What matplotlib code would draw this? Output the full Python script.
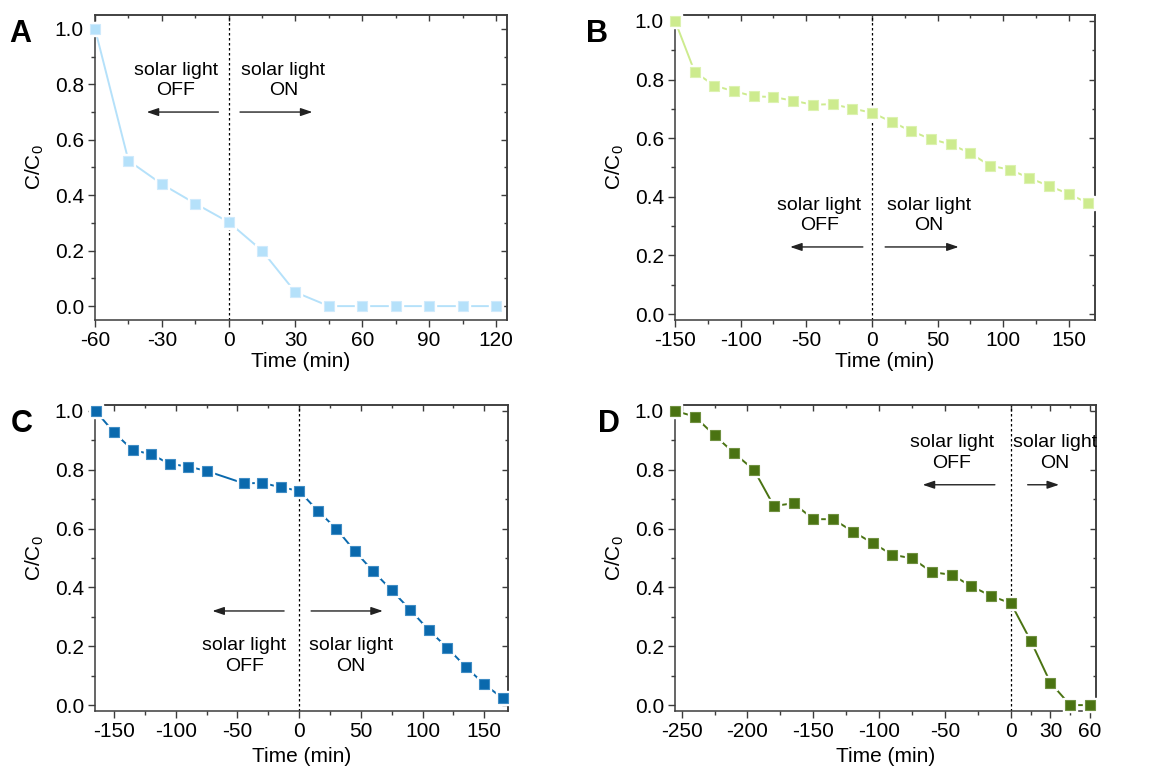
import matplotlib
matplotlib.use('Agg')
import matplotlib.pyplot as plt

plt.rcParams['font.family'] = ['Liberation Sans', 'DejaVu Sans']
plt.rcParams['mathtext.fontset'] = 'custom'
plt.rcParams['mathtext.rm'] = 'Liberation Sans'
plt.rcParams['mathtext.it'] = 'Liberation Sans:italic'
plt.rcParams['axes.unicode_minus'] = False

# ---- data ----
time_a = [-60, -45, -30, -15, 0, 15, 30, 45, 60, 75, 90, 105, 120]
conc_a = [1.0, 0.525, 0.44, 0.37, 0.303, 0.20, 0.05, 0.0, 0.0, 0.0, 0.0, 0.0, 0.0]

time_b = [-150, -135, -120, -105, -90, -75, -60, -45, -30, -15, 0,
          15, 30, 45, 60, 75, 90, 105, 120, 135, 150, 165]
conc_b = [1.0, 0.826, 0.779, 0.760, 0.743, 0.740, 0.728, 0.714, 0.716, 0.701, 0.687,
          0.656, 0.624, 0.597, 0.579, 0.549, 0.506, 0.493, 0.464, 0.437, 0.410, 0.378]

time_c = [-165, -150, -135, -120, -105, -90, -75, -45, -30, -15, 0,
          15, 30, 45, 60, 75, 90, 105, 120, 135, 150, 165]
conc_c = [1.0, 0.927, 0.867, 0.853, 0.820, 0.811, 0.796, 0.754, 0.755, 0.741, 0.728,
          0.661, 0.600, 0.524, 0.455, 0.390, 0.324, 0.255, 0.195, 0.130, 0.071, 0.023]

time_d = [-255, -240, -225, -210, -195, -180, -165, -150, -135, -120, -105,
          -90, -75, -60, -45, -30, -15, 0, 15, 30, 45, 60]
conc_d = [1.0, 0.981, 0.917, 0.856, 0.799, 0.677, 0.686, 0.632, 0.632, 0.590, 0.551,
          0.511, 0.499, 0.452, 0.443, 0.404, 0.371, 0.346, 0.219, 0.076, 0.0, 0.0]

xticks_a = [-60, -30, 0, 30, 60, 90, 120]
xticks_b = [-150, -100, -50, 0, 50, 100, 150]
xticks_c = [-150, -100, -50, 0, 50, 100, 150]
xticks_d = [-250, -200, -150, -100, -50, 0, 30, 60]
xminor_a = [-45, -15, 15, 45, 75, 105]
xminor_b = [-125, -75, -25, 25, 75, 125]
xminor_c = [-125, -75, -25, 25, 75, 125]
xminor_d = [-225, -175, -125, -75, -25, 15, 45]
yticks = [0.0, 0.2, 0.4, 0.6, 0.8, 1.0]
yminor = [0.1, 0.3, 0.5, 0.7, 0.9]

colors = ['#b5e1fa', '#cdeb8e', '#0a69ad', '#4a7312']
edge_colors = ['#cfeafc', '#dcf2b0', '#3f8cc4', '#6f9040']

spine_col = '#3c3c3c'

fig = plt.figure(figsize=(11.49, 7.74), dpi=100)


def make_panel(rect, t, c, color, ecol, xlim, ylim, xt, xm, letter, letter_pos,
               off_txt, off_arrow, on_txt, on_arrow, xlabelpad):
    ax = fig.add_axes(rect)
    ax.plot(t, c, '-', color=color, lw=1.4, zorder=2)
    # white squares give the "gap to symbol" look
    ax.plot(t, c, 's', ms=10.5, color='white', zorder=3, clip_on=False)
    ax.plot(t, c, 's', ms=7.4, color=color, mec=ecol, mew=0.8, zorder=4, clip_on=False)
    ax.axvline(0, color='black', lw=0.9, ls=(0, (2, 2)), zorder=1)

    ax.set_xlim(xlim)
    ax.set_ylim(ylim)
    ax.set_xticks(xt)
    ax.set_xticks(xm, minor=True)
    ax.set_yticks(yticks)
    ax.set_yticks(yminor, minor=True)
    ax.set_yticklabels(['%.1f' % v for v in yticks])
    ax.tick_params(which='major', direction='out', length=5, width=1.0,
                   color=spine_col, labelsize=15, pad=3)
    ax.tick_params(which='minor', direction='out', length=3, width=1.0, color=spine_col)
    for s in ax.spines.values():
        s.set_color(spine_col)
        s.set_linewidth(1.1)

    # mirrored ticks pointing inward on top and right
    top = ax.secondary_xaxis('top')
    top.set_xticks(xt)
    top.set_xticks(xm, minor=True)
    top.tick_params(which='major', direction='in', length=4, width=1.0,
                    color=spine_col, labeltop=False)
    top.tick_params(which='minor', direction='in', length=2.5, width=1.0,
                    color=spine_col)
    top.spines['top'].set_color(spine_col)
    top.spines['top'].set_linewidth(1.1)
    right = ax.secondary_yaxis('right')
    right.set_yticks(yticks)
    right.set_yticks(yminor, minor=True)
    right.tick_params(which='major', direction='in', length=4, width=1.0,
                      color=spine_col, labelright=False)
    right.tick_params(which='minor', direction='in', length=2.5, width=1.0,
                      color=spine_col)
    right.spines['right'].set_color(spine_col)
    right.spines['right'].set_linewidth(1.1)

    ax.set_xlabel('Time (min)', fontsize=15, labelpad=xlabelpad)
    ax.set_ylabel('C/C$_0$', fontsize=15, labelpad=6)

    ax.text(off_txt[0], off_txt[1], 'solar light\nOFF', ha='center', va='center',
            fontsize=14, linespacing=1.25)
    ax.text(on_txt[0], on_txt[1], 'solar light\nON', ha='center', va='center',
            fontsize=14, linespacing=1.25)
    arrow_kw = dict(arrowstyle='-|>,head_length=0.5,head_width=0.17',
                    color='#222222', lw=1.0, shrinkA=0, shrinkB=0, mutation_scale=14)
    ax.annotate('', xy=(off_arrow[1], off_arrow[2]), xytext=(off_arrow[0], off_arrow[2]),
                arrowprops=arrow_kw)
    ax.annotate('', xy=(on_arrow[1], on_arrow[2]), xytext=(on_arrow[0], on_arrow[2]),
                arrowprops=arrow_kw)

    fig.text(letter_pos[0], letter_pos[1], letter, fontsize=22, fontweight='bold',
             ha='center', va='center')
    return ax


make_panel([0.0827, 0.5866, 0.3586, 0.394], time_a, conc_a, colors[0], edge_colors[0],
           (-60, 125), (-0.05, 1.05), xticks_a, xminor_a, 'A', (20 / 1149, 1 - 34 / 774),
           (-23.8, 0.815), (-4.6, -36.8, 0.70), (24.6, 0.815), (5.1, 37.6, 0.70), 1.5)

make_panel([0.5875, 0.5866, 0.3655, 0.394], time_b, conc_b, colors[1], edge_colors[1],
           (-150, 170), (-0.02, 1.02), xticks_b, xminor_b, 'B', (597 / 1149, 1 - 34 / 774),
           (-40.2, 0.336), (-6.9, -62.3, 0.229), (43.4, 0.336), (10.1, 66.1, 0.229), 1.5)

make_panel([0.0827, 0.0814, 0.3594, 0.3953], time_c, conc_c, colors[2], edge_colors[2],
           (-165.4, 169.2), (-0.02, 1.02), xticks_c, xminor_c, 'C', (22 / 1149, 1 - 424 / 774),
           (-44.3, 0.167), (-12.2, -70.3, 0.320), (41.9, 0.167), (9.7, 67.8, 0.320), 4)

make_panel([0.5875, 0.0814, 0.3664, 0.3953], time_d, conc_d, colors[3], edge_colors[3],
           (-255, 64.6), (-0.02, 1.02), xticks_d, xminor_d, 'D', (609 / 1149, 1 - 424 / 774),
           (-45, 0.857), (-12.2, -67, 0.749), (33.4, 0.857), (12.7, 36.5, 0.749), 4)

fig.savefig('out.png', dpi=100)
